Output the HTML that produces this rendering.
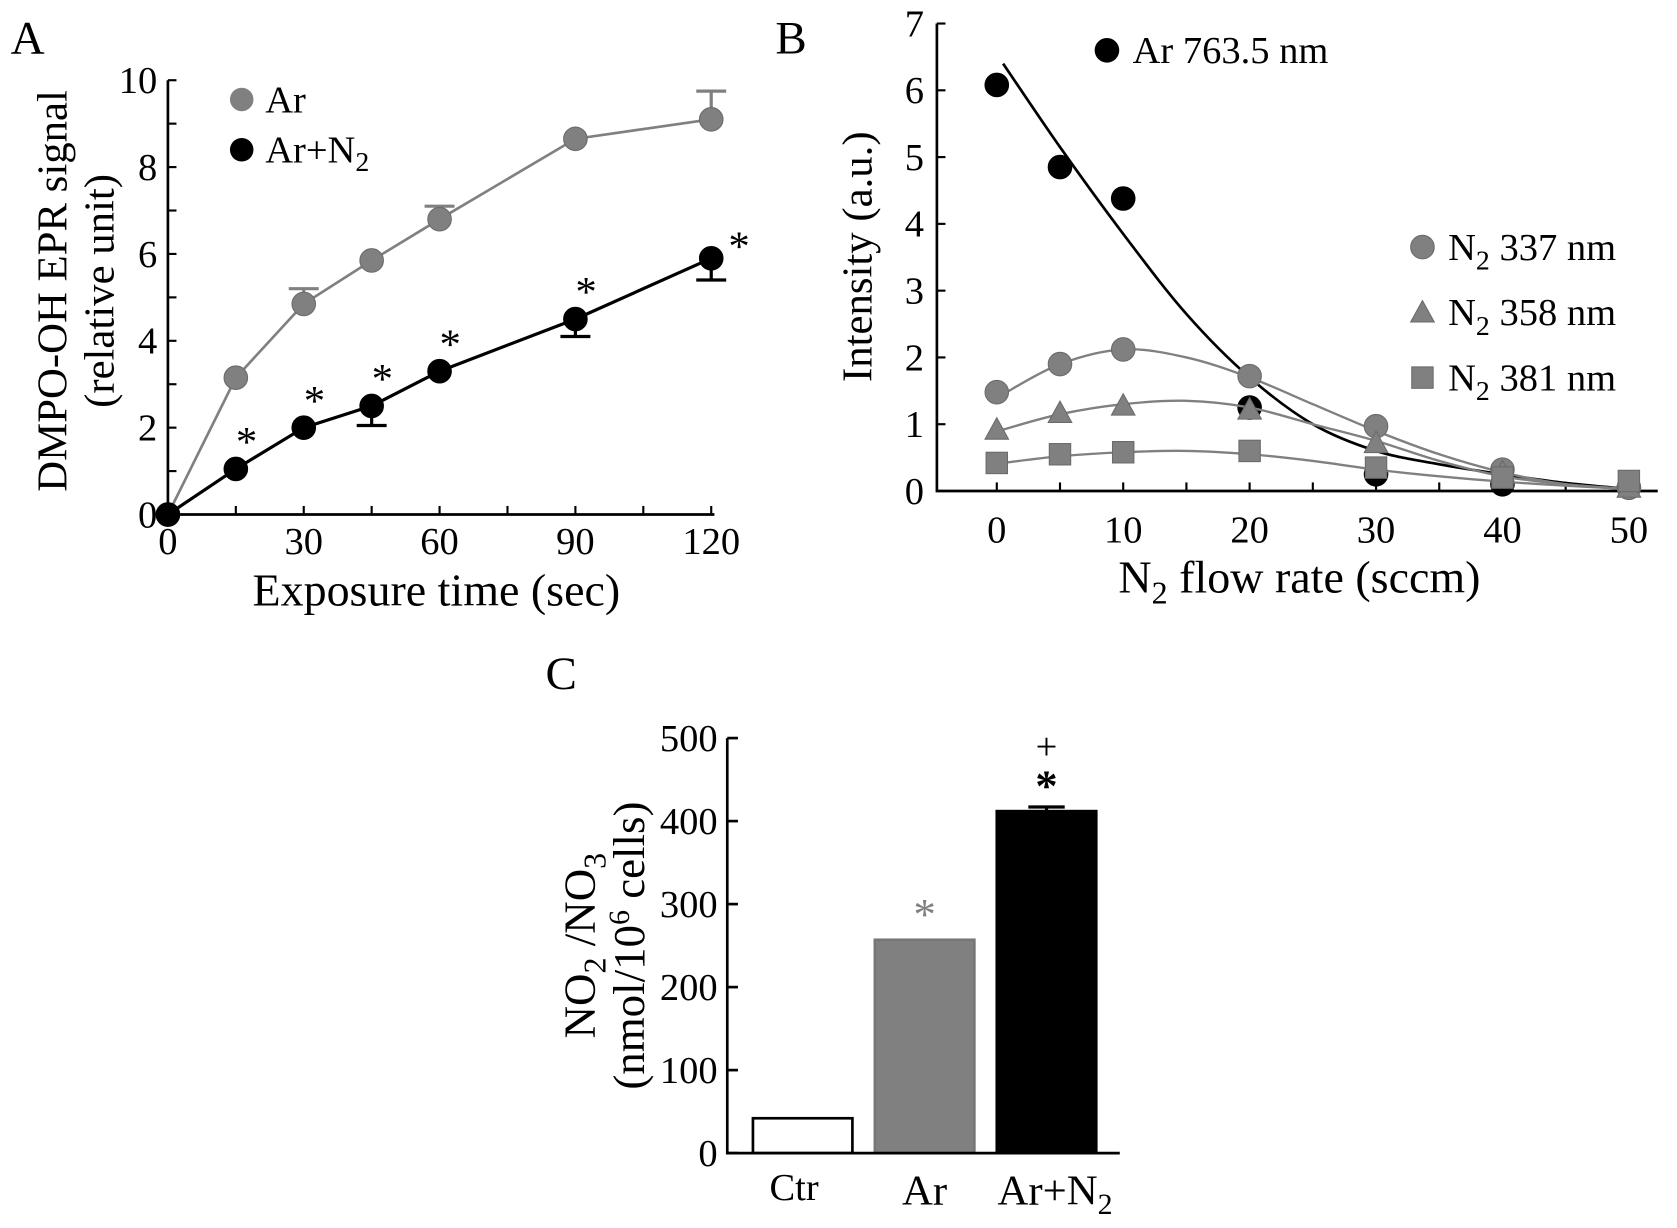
<!DOCTYPE html>
<html><head><meta charset="utf-8"><style>
html,body{margin:0;padding:0;background:#fff;}
svg{display:block;}
text{font-family:"Liberation Serif","Times New Roman",serif;fill:#000;}
</style></head><body>
<svg id="fig" width="1677" height="1228" viewBox="0 0 1568 1148" preserveAspectRatio="none" xmlns="http://www.w3.org/2000/svg" font-family="Liberation Serif, serif">
<rect width="1568" height="1148" fill="#fff"/>
<g id="A"></g>
<g id="B"></g>
<g id="C"></g>
</svg>
<script>
// ---------- Panel A data ----------
const aTimes = [0, 15, 30, 45, 60, 90, 120];
const aAr = [0, 3.15, 4.85, 5.85, 6.8, 8.65, 9.1];
const aArErr = [0, 0, 0.35, 0, 0.3, 0, 0.65];
const aArN2 = [0, 1.05, 2.0, 2.5, 3.3, 4.5, 5.9];
const aArN2Err = [0, 0, 0, 0.45, 0, 0.4, 0.5];
const aXTicks = [0, 30, 60, 90, 120];
const aYTicks = [0, 2, 4, 6, 8, 10];
// ---------- Panel B data ----------
const bFlow = [0, 5, 10, 20, 30, 40, 50];
const bAr763 = [6.08, 4.85, 4.38, 1.25, 0.25, 0.1, 0.05];
const bN2337 = [1.48, 1.9, 2.12, 1.72, 0.97, 0.32, 0.05];
const bN2358 = [0.92, 1.17, 1.28, 1.22, 0.72, 0.28, 0.05];
const bN2381 = [0.42, 0.55, 0.58, 0.6, 0.35, 0.2, 0.15];
const bFitX = [0.5, 5, 10, 15, 20, 25, 30, 35, 40, 45, 50];
const bFitAr = [6.4, 5.15, 3.85, 2.65, 1.7, 1.0, 0.6, 0.4, 0.25, 0.12, 0.03];
const bFit337 = [1.45, 1.9, 2.12, 2.0, 1.7, 1.3, 0.9, 0.55, 0.28, 0.1, 0.03];
const bFit358 = [0.92, 1.15, 1.3, 1.35, 1.25, 1.0, 0.75, 0.45, 0.22, 0.1, 0.03];
const bFit381 = [0.42, 0.52, 0.58, 0.6, 0.55, 0.45, 0.32, 0.22, 0.14, 0.08, 0.03];
const bXTicks = [0, 10, 20, 30, 40, 50];
const bYTicks = [0, 1, 2, 3, 4, 5, 6, 7];
// ---------- Panel C data ----------
const cCats = ["Ctr", "Ar", "Ar+N2"];
const cVals = [42, 257, 412];
const cErr = [0, 0, 5];
const cYTicks = [0, 100, 200, 300, 400, 500];

const NS = "http://www.w3.org/2000/svg";
function mk(parent, tag, attrs, txt) {
  const e = document.createElementNS(NS, tag);
  for (const k in attrs) e.setAttribute(k, attrs[k]);
  if (txt !== undefined) e.textContent = txt;
  parent.appendChild(e);
  return e;
}
function smooth(pts) {
  let d = "M" + pts[0][0] + "," + pts[0][1];
  for (let i = 0; i < pts.length - 1; i++) {
    const p0 = pts[Math.max(0, i - 1)], p1 = pts[i], p2 = pts[i + 1], p3 = pts[Math.min(pts.length - 1, i + 2)];
    const c1 = [p1[0] + (p2[0] - p0[0]) / 6, p1[1] + (p2[1] - p0[1]) / 6];
    const c2 = [p2[0] - (p3[0] - p1[0]) / 6, p2[1] - (p3[1] - p1[1]) / 6];
    d += " C" + c1 + " " + c2 + " " + p2;
  }
  return d;
}
const GR = "#808080";
const TK = 36;

// ================= Panel A =================
(function () {
  const g = document.getElementById("A");
  const x = v => 157 + v / 120 * 508;
  const y = v => 481 - v / 10 * 406;
  let t = mk(g, "text", { x: 10, y: 50, "font-size": 44 }, "A");
  
  
  let ax = mk(g, "path", { d: `M${x(0)},${y(10)} V${y(0)} H${x(120) + 3}`, stroke: "#000", "stroke-width": 2.5, fill: "none" });
  
  
  for (let v = 0; v <= 10; v++) mk(g, "line", { x1: x(0), x2: x(0) + 8, y1: y(v), y2: y(v), stroke: "#000", "stroke-width": 2 });
  for (let v = 15; v <= 120; v += 15) mk(g, "line", { x1: x(v), x2: x(v), y1: y(0), y2: y(0) - 8, stroke: "#000", "stroke-width": 2 });
  aYTicks.forEach(v => {
    const e = mk(g, "text", { x: x(0) - 10, y: y(v) + 12, "font-size": TK, "text-anchor": "end" }, String(v));
    
    
  });
  aXTicks.forEach(v => {
    const e = mk(g, "text", { x: x(v), y: 518, "font-size": TK, "text-anchor": "middle" }, String(v));
    
    
  });
  t = mk(g, "text", { x: 408, y: 566, "font-size": 43, "text-anchor": "middle" }, "Exposure time (sec)");
  
  
  t = mk(g, "text", { transform: "translate(62,272) rotate(-90)", "font-size": 40, "text-anchor": "middle" }, "DMPO-OH EPR signal");
  
  
  t = mk(g, "text", { transform: "translate(106,272) rotate(-90)", "font-size": 40, "text-anchor": "middle" }, "(relative unit)");
  
  
  function series(vals, errs, color, name, dir) {
    const sg = mk(g, "g", {});
    
    
    mk(sg, "polyline", { points: aTimes.map((tt, i) => x(tt) + "," + y(vals[i])).join(" "), fill: "none", stroke: color, "stroke-width": color === "#000" ? 3 : 2.5 });
    aTimes.forEach((tt, i) => {
      if (errs[i] > 0) {
        const ye = y(vals[i] + dir * errs[i]);
        mk(sg, "line", { x1: x(tt), x2: x(tt), y1: y(vals[i]), y2: ye, stroke: color, "stroke-width": 3 });
        mk(sg, "line", { x1: x(tt) - 14, x2: x(tt) + 14, y1: ye, y2: ye, stroke: color, "stroke-width": 3 });
      }
    });
    aTimes.forEach((tt, i) => {
      const c = mk(sg, "circle", { cx: x(tt), cy: y(vals[i]), r: 11, fill: color, stroke: color === "#000" ? "#000" : "#6a6a6a", "stroke-width": 1 });
      
      
    });
  }
  series(aAr, aArErr, GR, "series-ar", 1);
  series(aArN2, aArN2Err, "#000", "series-ar-n2", -1);
  aTimes.forEach((tt, i) => {
    if (i === 0) return;
    const e = mk(g, "text", { x: x(tt) + (i === 6 ? 26 : 10), y: y(aArN2[i]) - (i === 6 ? -2 : 12), "font-size": 40, "text-anchor": "middle" }, "*");
    
    
  });
  let l = mk(g, "circle", { cx: 226, cy: 93, r: 11, fill: GR });
  
  
  t = mk(g, "text", { x: 248, y: 105, "font-size": TK }, "Ar");
  
  
  l = mk(g, "circle", { cx: 226, cy: 140, r: 11, fill: "#000" });
  
  
  t = mk(g, "text", { x: 248, y: 152, "font-size": TK });
  t.innerHTML = 'Ar+N<tspan font-size="26" dy="8">2</tspan>';
  
  
})();

// ================= Panel B =================
(function () {
  const g = document.getElementById("B");
  const x = v => 932 + v / 50 * 591;
  const y = v => 459 - v / 7 * 437;
  let t = mk(g, "text", { x: 725, y: 50, "font-size": 44 }, "B");
  
  
  let ax = mk(g, "path", { d: `M876,${y(7)} V${y(0)} H1550`, stroke: "#000", "stroke-width": 2.5, fill: "none" });
  
  
  bYTicks.forEach(v => {
    mk(g, "line", { x1: 876, x2: 884, y1: y(v), y2: y(v), stroke: "#000", "stroke-width": 2 });
    const e = mk(g, "text", { x: 864, y: y(v) + 12, "font-size": TK, "text-anchor": "end" }, String(v));
    
    
  });
  for (let v = 0; v <= 50; v += 5) mk(g, "line", { x1: x(v), x2: x(v), y1: y(0), y2: y(0) - 8, stroke: "#000", "stroke-width": 2 });
  bXTicks.forEach(v => {
    const e = mk(g, "text", { x: x(v), y: 507, "font-size": TK, "text-anchor": "middle" }, String(v));
    
    
  });
  t = mk(g, "text", { x: 1215, y: 554, "font-size": 43, "text-anchor": "middle" });
  t.innerHTML = 'N<tspan font-size="30" dy="10">2</tspan><tspan dy="-10"> flow rate (sccm)</tspan>';
  
  
  t = mk(g, "text", { transform: "translate(815,240) rotate(-90)", "font-size": 40, "text-anchor": "middle" }, "Intensity (a.u.)");
  
  
  function fit(arr, color, name, w) {
    const p = mk(g, "path", { d: smooth(bFitX.map((fx, i) => [x(fx), y(arr[i])])), fill: "none", stroke: color, "stroke-width": w });
    
    
  }
  function marker(par, shape, cx, cy, color) {
    if (shape === "c") return mk(par, "circle", { cx, cy, r: 11, fill: color, stroke: color === "#000" ? "#000" : "#6a6a6a" });
    if (shape === "t") return mk(par, "polygon", { points: `${cx},${cy - 11} ${cx + 11},${cy + 9} ${cx - 11},${cy + 9}`, fill: color, stroke: "#6a6a6a" });
    return mk(par, "rect", { x: cx - 10, y: cy - 10, width: 20, height: 20, fill: color, stroke: "#6a6a6a" });
  }
  function pts(arr, shape, color, name) {
    const sg = mk(g, "g", {});
    
    
    bFlow.forEach((f, i) => {
      const m = marker(sg, shape, x(f), y(arr[i]), color);
      
      
    });
  }
  pts(bAr763, "c", "#000", "series-ar-763");
  fit(bFitAr, "#000", "fit-ar-763", 2.5);
  fit(bFit337, GR, "fit-n2-337", 2.2);
  fit(bFit358, GR, "fit-n2-358", 2.2);
  fit(bFit381, GR, "fit-n2-381", 2.2);
  pts(bN2337, "c", GR, "series-n2-337");
  pts(bN2358, "t", GR, "series-n2-358");
  pts(bN2381, "s", GR, "series-n2-381");
  const leg = [["c", "#000", 47, "Ar 763.5 nm", 1035], ["c", GR, 231, "337 nm", 1330], ["t", GR, 292, "358 nm", 1330], ["s", GR, 353, "381 nm", 1330]];
  leg.forEach((L, i) => {
    const m = marker(g, L[0], L[4], L[2], L[1]);
    
    
    const e = mk(g, "text", { x: L[4] + 24, y: L[2] + 12, "font-size": TK });
    if (i === 0) e.textContent = L[3];
    else e.innerHTML = 'N<tspan font-size="26" dy="9">2</tspan><tspan dy="-9"> ' + L[3] + '</tspan>';
    
    
  });
})();

// ================= Panel C =================
(function () {
  const g = document.getElementById("C");
  const y = v => 1078 - v / 500 * 388;
  const barX = [704, 818, 932];
  const bw = 93;
  const fills = ["#fff", GR, "#000"];
  let t = mk(g, "text", { x: 510, y: 644, "font-size": 44 }, "C");
  
  
  cVals.forEach((v, i) => {
    const r = mk(g, "rect", { x: barX[i], y: y(v), width: bw, height: y(0) - y(v), fill: fills[i], stroke: i === 1 ? "#777" : "#000", "stroke-width": 2.5 });
    
    
    if (cErr[i] > 0) {
      const cx = barX[i] + bw / 2, ye = y(v + cErr[i]);
      mk(g, "line", { x1: cx, x2: cx, y1: y(v), y2: ye, stroke: "#000", "stroke-width": 3 });
      mk(g, "line", { x1: cx - 17, x2: cx + 17, y1: ye, y2: ye, stroke: "#000", "stroke-width": 3 });
    }
  });
  let ax = mk(g, "path", { d: `M680,${y(500)} V${y(0)} H1047`, stroke: "#000", "stroke-width": 2.5, fill: "none" });
  
  
  cYTicks.forEach(v => {
    mk(g, "line", { x1: 680, x2: 690, y1: y(v), y2: y(v), stroke: "#000", "stroke-width": 2.5 });
    const e = mk(g, "text", { x: 671, y: y(v) + 12, "font-size": TK, "text-anchor": "end" }, String(v));
    
    
  });
  let e = mk(g, "text", { x: barX[0] + bw / 2 - 8, y: 1122, "font-size": 36, "text-anchor": "middle" }, cCats[0]);
  
  
  e = mk(g, "text", { x: barX[1] + bw / 2, y: 1126, "font-size": 40, "text-anchor": "middle" }, cCats[1]);
  
  
  e = mk(g, "text", { x: barX[2] + bw / 2 + 8, y: 1126, "font-size": 40, "text-anchor": "middle" });
  e.innerHTML = 'Ar+N<tspan font-size="28" dy="9">2</tspan>';
  
  
  e = mk(g, "text", { x: barX[1] + bw / 2, y: y(cVals[1]) - 10, "font-size": 42, "text-anchor": "middle", fill: GR }, "*");
  e.style.fill = GR;
  
  
  e = mk(g, "text", { x: barX[2] + bw / 2, y: y(cVals[2] + cErr[2]) - 6, "font-size": 42, "text-anchor": "middle", "font-weight": "bold" }, "*");
  
  
  e = mk(g, "text", { x: barX[2] + bw / 2, y: y(cVals[2] + cErr[2]) - 45, "font-size": 36, "text-anchor": "middle" }, "+");
  
  
  e = mk(g, "text", { transform: "translate(556,884) rotate(-90)", "font-size": 42, "text-anchor": "middle" });
  e.innerHTML = 'NO<tspan font-size="30" dy="10">2</tspan><tspan dy="-10"> /NO</tspan><tspan font-size="30" dy="10">3</tspan>';
  
  
  e = mk(g, "text", { transform: "translate(602,884) rotate(-90)", "font-size": 42, "text-anchor": "middle" });
  e.innerHTML = '(nmol/10<tspan font-size="28" dy="-14">6</tspan><tspan dy="14"> cells)</tspan>';
  
  
})();
</script>
</body></html>
